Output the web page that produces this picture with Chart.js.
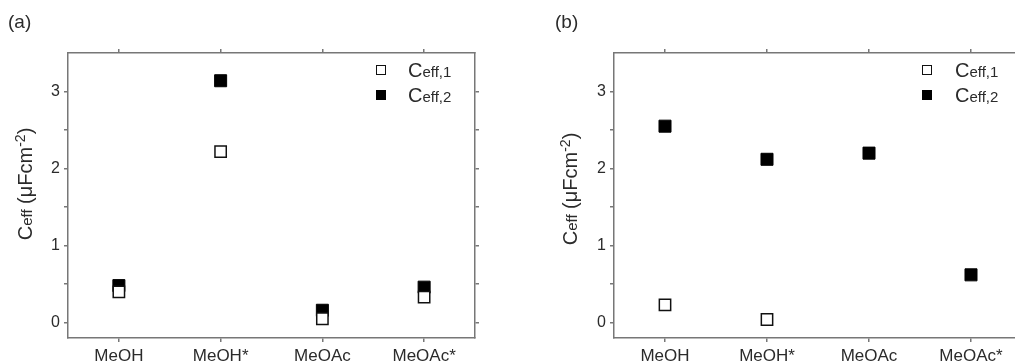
<!DOCTYPE html>
<html>
<head>
<meta charset="utf-8">
<script src="https://cdn.jsdelivr.net/npm/chart.js@4"></script>
<style>
  html, body { margin: 0; padding: 0; background: #fff; overflow: hidden; }
  body { position: relative; width: 1015px; height: 363px; font-family: 'Liberation Sans', Arial, sans-serif; color: #2b2b2b; }
  canvas { position: absolute; top: 0; }
  #chartA { left: 0; }
  #chartB { left: 500px; }
  .panel { position: absolute; top: 11px; font-size: 19px; }
  .ytitle { position: absolute; transform: translate(-50%, -50%) rotate(-90deg); white-space: nowrap; font-size: 20px; }
  .sub { font-size: 15px; }
  .sup { font-size: 14px; vertical-align: 7px; }
  .leg { position: absolute; font-size: 20px; white-space: nowrap; line-height: 20px; }
  .mk { position: absolute; width: 8px; height: 8px; border: 1.5px solid #111; background: #fff; }
  .mk.filled { background: #000; border-color: #000; }
</style>
</head>
<body>
<canvas id="chartA" width="500" height="363"></canvas>
<canvas id="chartB" width="550" height="363"></canvas>

<div class="panel" style="left:8px">(a)</div>
<div class="panel" style="left:555px">(b)</div>

<div class="ytitle" style="left:24px; top:184px">C<span class="sub">eff</span> (μFcm<span class="sup">-2</span>)</div>
<div class="ytitle" style="left:569px; top:189px">C<span class="sub">eff</span> (μFcm<span class="sup">-2</span>)</div>

<!-- legenda (a) -->
<div class="mk" style="left:376px; top:65px"></div>
<div class="leg" style="left:408px; top:60px">C<span class="sub">eff,1</span></div>
<div class="mk filled" style="left:376px; top:90px"></div>
<div class="leg" style="left:408px; top:85px">C<span class="sub">eff,2</span></div>

<!-- legenda (b) -->
<div class="mk" style="left:922px; top:65px"></div>
<div class="leg" style="left:955px; top:60px">C<span class="sub">eff,1</span></div>
<div class="mk filled" style="left:922px; top:90px"></div>
<div class="leg" style="left:955px; top:85px">C<span class="sub">eff,2</span></div>

<script>
// dados
const categories = ['MeOH', 'MeOH*', 'MeOAc', 'MeOAc*'];
const yTicks = [0, 0.5, 1, 1.5, 2, 2.5, 3];
const yMin = -0.2;
const yMax = 3.5;

const ceff1A = [0.40, 2.22, 0.05, 0.33];
const ceff2A = [0.48, 3.14, 0.16, 0.46];
const ceff1B = [0.23, 0.04, null, null];
const ceff2B = [2.55, 2.12, 2.20, 0.62];

const axisColor = '#777';
const textColor = '#2b2b2b';
const fontFamily = "'Liberation Sans', Arial, sans-serif";

function axisBase() {
    return {
        border: { display: true, color: axisColor, width: 1.5 },
        grid: { drawOnChartArea: false, color: axisColor, lineWidth: 1.5, tickLength: 4 }
    };
}

function makePanel(canvasId, ceff1, ceff2, leftWidth, rightWidth) {
    const ctx = document.getElementById(canvasId);
    new Chart(ctx, {
        type: 'line',
        data: {
            labels: categories,
            datasets: [{
                label: 'Ceff,1',
                data: ceff1,
                showLine: false,
                pointStyle: 'rect',
                pointRadius: 8,
                backgroundColor: '#fff',
                borderColor: '#111',
                borderWidth: 1.5
            }, {
                label: 'Ceff,2',
                data: ceff2,
                showLine: false,
                pointStyle: 'rect',
                pointRadius: 8.5,
                backgroundColor: '#000',
                borderColor: '#000',
                borderWidth: 1
            }]
        },
        options: {
            responsive: false,
            animation: false,
            events: [],
            layout: { padding: 0 },
            plugins: { legend: { display: false }, tooltip: { enabled: false } },
            scales: {
                x: Object.assign(axisBase(), {
                    type: 'category',
                    position: 'bottom',
                    offset: true,
                    ticks: { color: textColor, font: { family: fontFamily, size: 17 }, padding: 4, maxRotation: 0, autoSkip: false },
                    afterFit: (s) => { s.height = 25; }
                }),
                x2: Object.assign(axisBase(), {
                    type: 'category',
                    position: 'top',
                    offset: true,
                    ticks: { display: false },
                    afterFit: (s) => { s.height = 53; }
                }),
                y: Object.assign(axisBase(), {
                    type: 'linear',
                    position: 'left',
                    min: yMin,
                    max: yMax,
                    afterBuildTicks: (s) => { s.ticks = yTicks.map(v => ({ value: v })); },
                    ticks: {
                        color: textColor,
                        font: { family: fontFamily, size: 16 },
                        padding: 4,
                        callback: (v) => Number.isInteger(v) ? String(v) : ''
                    },
                    afterFit: (s) => { s.width = leftWidth; }
                }),
                y2: Object.assign(axisBase(), {
                    type: 'linear',
                    position: 'right',
                    min: yMin,
                    max: yMax,
                    afterBuildTicks: (s) => { s.ticks = yTicks.map(v => ({ value: v })); },
                    ticks: { display: false },
                    afterFit: (s) => { s.width = rightWidth; }
                })
            }
        }
    });
}

makePanel('chartA', ceff1A, ceff2A, 68, 25);
makePanel('chartB', ceff1B, ceff2B, 114, 28);
</script>
</body>
</html>
